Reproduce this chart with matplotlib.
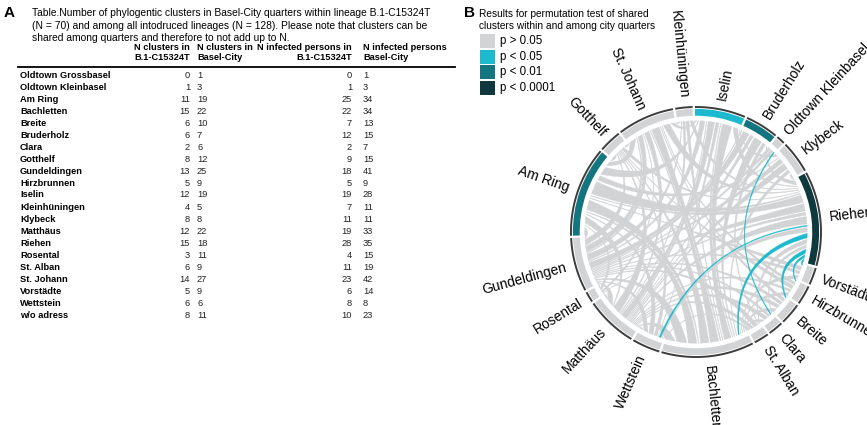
import numpy as np
import matplotlib
matplotlib.use("Agg")
import matplotlib.pyplot as plt
from matplotlib.path import Path
from matplotlib.patches import PathPatch, Wedge, Rectangle
from matplotlib.lines import Line2D

plt.rcParams["font.family"] = ["Liberation Sans", "DejaVu Sans"]

W, H = 867, 425

# ── Panel A: table ─────────────────────────────────────────────────────────────
quarters = ["Oldtown Grossbasel", "Oldtown Kleinbasel", "Am Ring", "Bachletten", "Breite",
            "Bruderholz", "Clara", "Gotthelf", "Gundeldingen", "Hirzbrunnen", "Iselin",
            "Kleinhüningen", "Klybeck", "Matthäus", "Riehen", "Rosental", "St. Alban",
            "St. Johann", "Vorstädte", "Wettstein", "w/o adress"]
clusters_lineage = [0, 1, 11, 15, 6, 6, 2, 8, 13, 5, 12, 4, 8, 12, 15, 3, 6, 14, 5, 6, 8]
clusters_city    = [1, 3, 19, 22, 10, 7, 6, 12, 25, 9, 19, 5, 8, 22, 18, 11, 9, 27, 9, 6, 11]
persons_lineage  = [0, 1, 25, 22, 7, 12, 2, 9, 18, 5, 19, 7, 11, 19, 28, 4, 11, 23, 6, 8, 10]
persons_city     = [1, 3, 34, 34, 13, 15, 7, 15, 41, 9, 28, 11, 11, 33, 35, 15, 19, 42, 14, 8, 23]

table_title = ["Table.Number of phylogentic clusters in Basel-City quarters within lineage B.1-C15324T",
               "(N = 70) and among all intodruced lineages (N = 128). Please note that clusters can be",
               "shared among quarters and therefore to not add up to N."]

# ── Panel B: chord diagram (clockwise from the top) ───────────────────────────
sectors = ["Iselin", "Bruderholz", "Oldtown Kleinbasel", "Klybeck", "Riehen", "Vorstädte",
           "Hirzbrunnen", "Breite", "Clara", "St. Alban", "Bachletten", "Wettstein",
           "Matthäus", "Rosental", "Gundeldingen", "Am Ring", "Gotthelf", "St. Johann",
           "Kleinhüningen"]
sector_size = [23.5, 15.5, 4, 15, 44, 8, 9, 10, 7, 7, 43, 13, 24, 5, 25, 42, 10.5, 26.5, 8]
sector_p = ["p<0.05", "p<0.01", "ns", "ns", "p<0.0001", "ns", "ns", "ns", "ns", "ns", "ns",
            "ns", "ns", "ns", "ns", "p<0.01", "ns", "ns", "ns"]

# links: end a, end b, width at a, width at b, significance
link_a = ["Am Ring", "Am Ring", "Am Ring", "Am Ring", "Am Ring", "Am Ring", "Am Ring",
          "Gotthelf", "Vorstädte", "Wettstein", "Rosental", "Riehen",
          "St. Johann", "St. Johann", "St. Johann", "St. Johann", "Iselin", "Hirzbrunnen",
          "Breite", "Kleinhüningen",
          "Iselin", "Iselin", "Iselin", "Iselin", "Iselin", "Klybeck", "Bachletten",
          "Bruderholz", "Bruderholz", "Bruderholz", "Bruderholz", "Gundeldingen", "Riehen",
          "Oldtown Kleinbasel", "Oldtown Kleinbasel", "Oldtown Kleinbasel",
          "Klybeck", "Klybeck", "Klybeck", "Klybeck",
          "Kleinhüningen", "Kleinhüningen", "Kleinhüningen",
          "Riehen", "Riehen", "Riehen", "Riehen", "Riehen", "Riehen", "Riehen", "Riehen",
          "Riehen", "Riehen",
          "Vorstädte", "Vorstädte", "Hirzbrunnen", "Hirzbrunnen", "Hirzbrunnen",
          "Breite", "Breite", "Breite", "Clara", "Clara", "Clara",
          "St. Alban", "St. Alban", "St. Alban",
          "Wettstein", "Bachletten", "Bachletten", "Bachletten", "Bachletten", "Bachletten",
          "Wettstein", "Wettstein", "Wettstein",
          "Matthäus", "Matthäus", "Matthäus", "Matthäus",
          "Rosental", "Rosental", "Gundeldingen", "Gundeldingen", "Gundeldingen",
          "Gotthelf", "Gotthelf"]
link_b = ["Riehen", "Bachletten", "Iselin", "Gundeldingen", "Matthäus", "St. Johann", "Klybeck",
          "Am Ring", "Am Ring", "Am Ring", "Am Ring", "Am Ring",
          "Bachletten", "Riehen", "Matthäus", "Gundeldingen", "St. Johann", "St. Johann",
          "St. Johann", "St. Johann",
          "Bachletten", "Matthäus", "Gundeldingen", "Riehen", "Wettstein", "Iselin", "Iselin",
          "Bachletten", "Gundeldingen", "St. Alban", "Matthäus", "Bruderholz", "Bruderholz",
          "Clara", "Matthäus", "Gundeldingen",
          "Matthäus", "Riehen", "Gundeldingen", "Bachletten",
          "Riehen", "Bachletten", "Matthäus",
          "Gundeldingen", "Matthäus", "Wettstein", "Bachletten", "Breite", "Hirzbrunnen",
          "Vorstädte", "St. Alban", "Clara", "Rosental",
          "Bachletten", "Gundeldingen", "Gotthelf", "Bachletten", "Matthäus",
          "Bachletten", "Matthäus", "Gundeldingen", "Matthäus", "Bachletten", "Gundeldingen",
          "Gundeldingen", "Matthäus", "Wettstein",
          "Riehen", "Gundeldingen", "Matthäus", "Gotthelf", "Am Ring", "St. Johann",
          "Gundeldingen", "Matthäus", "Gotthelf",
          "Gundeldingen", "Gotthelf", "Rosental", "Iselin",
          "Gundeldingen", "St. Johann", "Gotthelf", "St. Johann", "Kleinhüningen",
          "St. Johann", "Riehen"]
link_wa = [8, 6, 5, 5, 4, 3, 3,
           3, 2.5, 3, 1.5, 5,
           5, 4, 3, 3, 1, 2, 2, 2,
           6, 4, 3, 3, 2, 2, 4,
           5, 4, 2, 2, 3, 3,
           0.6, 1.7, 1.7,
           4, 3, 3, 2,
           2, 2, 1.5,
           5, 5, 3, 3, 3, 2, 2, 3, 2, 2,
           2.5, 2, 2.5, 2.5, 1.5,
           3, 2.5, 2, 2.5, 2, 1.5,
           2.5, 2, 1,
           1, 6, 6, 5, 5, 5,
           3, 2, 2,
           4, 4, 2, 3,
           1.5, 1, 3, 3, 3,
           2, 1.5]
link_wb = [0.6, 0.4, 0.4, 0.6, 0.4, 4, 0.3,
           0.4, 0.4, 0.4, 0.3, 0.4,
           0.6, 0.4, 0.4, 0.4, 2, 0.3, 0.3, 0.25,
           0.4, 0.4, 0.4, 0.4, 0.3, 0.3, 0.4,
           0.4, 0.4, 0.3, 0.3, 0.4, 0.3,
           0.5, 0.25, 0.25,
           0.4, 0.4, 0.4, 0.3,
           0.3, 0.3, 0.25,
           0.4, 0.4, 0.3, 0.6, 0.8, 0.6, 1, 0.3, 0.25, 0.25,
           0.3, 0.25, 0.3, 0.3, 0.25,
           0.4, 0.3, 0.25, 0.3, 0.25, 0.25,
           0.3, 0.25, 0.25,
           0.6, 0.4, 0.4, 0.3, 0.4, 0.4,
           0.3, 0.25, 0.25,
           0.4, 0.3, 0.25, 0.3,
           0.25, 0.25, 0.3, 0.3, 0.25,
           0.3, 0.25]
link_p = (["ns"] * 33 + ["p<0.05"] + ["ns"] * 12
          + ["p<0.05", "p<0.05", "p<0.05", "p<0.05"] + ["ns"] * 17
          + ["p<0.05"] + ["ns"] * 19)

p_colors = {"ns": "#D2D3D5", "p<0.05": "#1DB9CE", "p<0.01": "#12757F", "p<0.0001": "#0E393F"}
legend_keys = ["ns", "p<0.05", "p<0.01", "p<0.0001"]
legend_labels = ["p > 0.05", "p < 0.05", "p < 0.01", "p < 0.0001"]


def fxy(x, y):
    """Pixel position (from top-left) to figure fraction."""
    return x / W, 1 - y / H


fig = plt.figure(figsize=(W / 100, H / 100), dpi=100)

# ── Panel A ───────────────────────────────────────────────────────────────────
fig.text(*fxy(4, 13), "A", fontsize=11, fontweight="bold", va="center", ha="left")
for i, line in enumerate(table_title):
    fig.text(*fxy(32, 13 + 12.7 * i), line, fontsize=7.35, va="center", ha="left")

fs = 6.65
hdr_y = [48, 58]
hdr = dict(fontsize=fs, fontweight="bold", va="center")
fig.text(*fxy(190, hdr_y[0]), "N clusters in", ha="right", **hdr)
fig.text(*fxy(190, hdr_y[1]), "B.1-C15324T", ha="right", **hdr)
fig.text(*fxy(197, hdr_y[0]), "N clusters in", ha="left", **hdr)
fig.text(*fxy(197, hdr_y[1]), "Basel-City", ha="left", **hdr)
fig.text(*fxy(352, hdr_y[0]), "N infected persons in", ha="right", **hdr)
fig.text(*fxy(352, hdr_y[1]), "B.1-C15324T", ha="right", **hdr)
fig.text(*fxy(363, hdr_y[0]), "N infected persons", ha="left", **hdr)
fig.text(*fxy(363, hdr_y[1]), "Basel-City", ha="left", **hdr)

x0, y0 = fxy(18, 66.5)
x1, _ = fxy(455, 66.5)
fig.add_artist(Line2D([x0, x1], [y0, y0], color="black", lw=1.3))

for i, q in enumerate(quarters):
    y = 75 + 12.0 * i
    fig.text(*fxy(20, y), q, fontsize=fs, fontweight="bold", ha="left", va="center")
    fig.text(*fxy(190, y), str(clusters_lineage[i]), fontsize=fs, ha="right", va="center", color="#222222")
    fig.text(*fxy(197, y), str(clusters_city[i]), fontsize=fs, ha="left", va="center", color="#222222")
    fig.text(*fxy(352, y), str(persons_lineage[i]), fontsize=fs, ha="right", va="center", color="#222222")
    fig.text(*fxy(363, y), str(persons_city[i]), fontsize=fs, ha="left", va="center", color="#222222")

# ── Panel B: legend ───────────────────────────────────────────────────────────
fig.text(*fxy(464, 13), "B", fontsize=11, fontweight="bold", va="center", ha="left")
fig.text(*fxy(479, 14), "Results for permutation test of shared", fontsize=7.3, va="center", ha="left")
fig.text(*fxy(479, 26), "clusters within and among city quarters", fontsize=7.3, va="center", ha="left")
for i, (lab, key) in enumerate(zip(legend_labels, legend_keys)):
    yc = 41 + 15.7 * i
    fig.add_artist(Rectangle(fxy(480, yc + 7), 15 / W, 14 / H, transform=fig.transFigure,
                             facecolor=p_colors[key], edgecolor="none"))
    fig.text(*fxy(500, yc), lab, fontsize=8.3, va="center", ha="left")

# ── Panel B: chord diagram ────────────────────────────────────────────────────
cx, cy, R = 696, 232, 125
ax = fig.add_axes([(cx - R) / W, (H - cy - R) / H, 2 * R / W, 2 * R / H])
ax.set_xlim(-1, 1)
ax.set_ylim(-1, 1)
ax.axis("off")

n = len(sectors)
gap = (360 - sum(sector_size)) / n
sec_hi, sec_lo = [], []
start = 90.5
for s in sector_size:
    sec_hi.append(start)
    sec_lo.append(start - s)
    start = start - s - gap
idx = {s: i for i, s in enumerate(sectors)}

# place link ends inside each sector, ordered to limit crossings
ends = {i: [] for i in range(n)}
for k in range(len(link_a)):
    ia, ib = idx[link_a[k]], idx[link_b[k]]
    ends[ia].append((k, 0, (ib - ia) % n, link_wa[k]))
    ends[ib].append((k, 1, (ia - ib) % n, link_wb[k]))
link_pos = {}
for i in range(n):
    lst = sorted(ends[i], key=lambda e: (-e[2], e[3]))
    tot = sum(e[3] for e in lst)
    end_gap = min(1.0, 0.3 * sector_size[i] / len(lst))
    scale = (sector_size[i] - end_gap * (len(lst) - 1)) / tot if tot else 0
    pos = sec_hi[i]
    for k, side, _, v in lst:
        link_pos[(k, side)] = (pos, pos - v * scale)
        pos -= v * scale + end_gap

r0 = 0.89


def pt(theta, r):
    t = np.radians(theta)
    return np.array([r * np.cos(t), r * np.sin(t)])


def ctrl(t0, t1, r):
    """Control point of the quadratic curve joining two link roots."""
    p0, p2 = pt(t0, r), pt(t1, r)
    m = (p0 + p2) / 2
    nm = np.linalg.norm(m)
    if nm < 1e-6:
        return m
    h = 0.25 * np.linalg.norm(p2 - p0) * nm / r
    return m - 2 * h * m / nm


def ribbon(a, b, color):
    verts, codes = [], []
    for j, t in enumerate(np.linspace(a[0], a[1], 20)):
        verts.append(pt(t, r0))
        codes.append(Path.MOVETO if j == 0 else Path.LINETO)
    verts += [ctrl(a[1], b[0], r0), pt(b[0], r0)]
    codes += [Path.CURVE3, Path.CURVE3]
    for t in np.linspace(b[0], b[1], 20)[1:]:
        verts.append(pt(t, r0))
        codes.append(Path.LINETO)
    verts += [ctrl(b[1], a[0], r0), pt(a[0], r0)]
    codes += [Path.CURVE3, Path.CURVE3]
    ax.add_patch(PathPatch(Path(verts, codes), facecolor=color, edgecolor=color, lw=0.25,
                           clip_on=False))


for k in range(len(link_a)):
    if link_p[k] == "ns":
        ribbon(link_pos[(k, 0)], link_pos[(k, 1)], p_colors["ns"])
for k in range(len(link_a)):
    if link_p[k] != "ns":
        ribbon(link_pos[(k, 0)], link_pos[(k, 1)], p_colors[link_p[k]])

for i, name in enumerate(sectors):
    ax.add_patch(Wedge((0, 0), 0.985, sec_lo[i], sec_hi[i], width=0.055,
                       facecolor=p_colors[sector_p[i]], edgecolor="none", clip_on=False))
    t = np.radians(np.linspace(sec_lo[i], sec_hi[i], 40))
    ax.plot(1.0 * np.cos(t), 1.0 * np.sin(t), color="#3C3C3C", lw=1.4, clip_on=False,
            solid_capstyle="butt")
    mid = (sec_hi[i] + sec_lo[i]) / 2
    x, y = pt(mid, 1.075)
    if -90 <= mid <= 90:
        rot, ha = mid, "left"
    else:
        rot, ha = (mid - 180 if mid > 0 else mid + 180), "right"
    ax.text(x, y, name, rotation=rot, rotation_mode="anchor", ha=ha, va="center",
            fontsize=10, clip_on=False)

fig.savefig("out.png", dpi=100)
